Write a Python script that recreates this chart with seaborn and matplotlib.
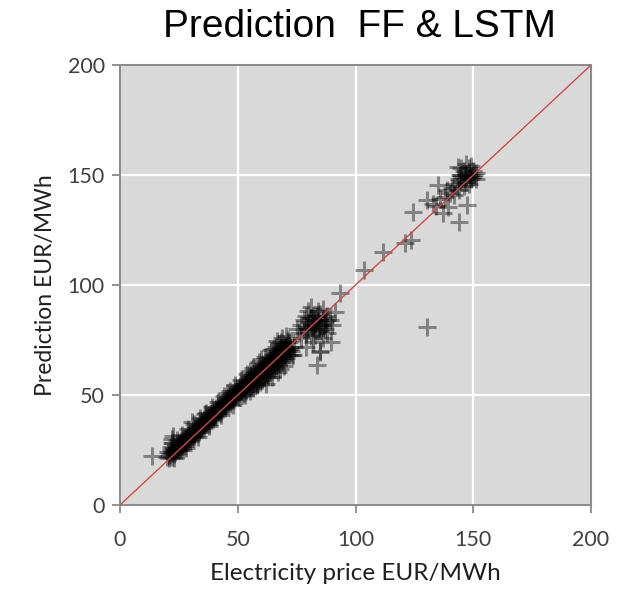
import matplotlib
matplotlib.use("Agg")
import matplotlib.pyplot as plt
import seaborn as sns
import pandas as pd

# ---- data ----
band_actual = [
    20, 20.5, 20.8,
    21.2, 21.6, 21.9,
    22.1, 22.5, 22.8, 22.3,
    23.1, 23.5, 23.8,
    24.2, 24.5, 24.9,
    25.1, 25.4, 25.8, 25.6,
    26.2, 26.5, 26.9,
    27.1, 27.4, 27.8, 27.6,
    28.2, 28.5, 28.9,
    29.1, 29.4, 29.8, 29.6,
    30.2, 30.5, 30.9,
    31.1, 31.4, 31.8, 31.6,
    32.2, 32.5, 32.9,
    33.1, 33.4, 33.8, 33.6,
    34.2, 34.5, 34.9,
    35.1, 35.4, 35.8, 35.6,
    36.2, 36.5, 36.9,
    37.1, 37.4, 37.8, 37.6,
    38.2, 38.5, 38.9,
    39.1, 39.4, 39.8, 39.6,
    40.2, 40.5, 40.9, 40.4,
    41.1, 41.4, 41.8,
    42.2, 42.5, 42.9, 42.6,
    43.1, 43.4, 43.8,
    44.2, 44.5, 44.9, 44.6,
    45.1, 45.4, 45.8,
    46.2, 46.5, 46.9, 46.6,
    47.1, 47.4, 47.8,
    48.2, 48.5, 48.9, 48.6,
    49.1, 49.4, 49.8,
    50.2, 50.5, 50.9, 50.6,
    51.1, 51.4, 51.8, 51.6,
    52.2, 52.5, 52.9, 52.6,
    53.1, 53.4, 53.8, 53.6,
    54.2, 54.5, 54.9, 54.6,
    55.1, 55.4, 55.8, 55.6, 55.3,
    56.2, 56.5, 56.9, 56.6, 56.3,
    57.1, 57.4, 57.8, 57.6, 57.3,
    58.2, 58.5, 58.9, 58.6, 58.3,
    59.1, 59.4, 59.8, 59.6, 59.3,
    60.2, 60.5, 60.9, 60.6, 60.3,
    61.1, 61.4, 61.8, 61.6, 61.3,
    62.2, 62.5, 62.9, 62.6, 62.3,
    63.1, 63.4, 63.8, 63.6, 63.3,
    64.2, 64.5, 64.9, 64.6, 64.3,
    65.1, 65.4, 65.8, 65.6, 65.3, 65.5,
    66.2, 66.5, 66.9, 66.6, 66.3, 66.4,
    67.1, 67.4, 67.8, 67.6, 67.3, 67.5,
    68.2, 68.5, 68.9, 68.6, 68.3, 68.4,
    69.1, 69.4, 69.8, 69.6, 69.3,
    70.2, 70.5, 70.9, 70.6, 70.3,
    71.1, 71.4, 71.8, 71.6,
    72.2, 72.5, 72.9,
]
band_pred = [
    22, 24, 21.5,
    23, 25, 22,
    24, 26, 23, 28,
    25, 24, 27,
    26, 25, 28,
    27, 26, 29, 25,
    28, 27, 30,
    29, 28, 31, 27,
    30, 29, 32,
    31, 30, 33, 29,
    32, 31, 34,
    33, 32, 35, 31,
    34, 33, 36,
    35, 34, 37, 33,
    36, 35, 38,
    37, 36, 39, 35,
    38, 37, 40,
    39, 38, 41, 37,
    40, 39, 42,
    41, 40, 43, 39,
    42, 41, 44, 40,
    43, 42, 45,
    44, 43, 46, 42,
    45, 44, 47,
    46, 45, 48, 44,
    47, 46, 49,
    48, 47, 50, 46,
    49, 48, 51,
    50, 49, 52, 48,
    51, 50, 53,
    52, 51, 54, 49,
    53, 52, 55, 50,
    54, 53, 56, 51,
    55, 54, 57, 52,
    56, 55, 58, 53,
    57, 56, 59, 54, 52,
    58, 57, 60, 55, 53,
    59, 58, 61, 56, 54,
    60, 59, 62, 57, 55,
    61, 60, 63, 58, 56,
    62, 61, 64, 59, 57,
    63, 62, 65, 60, 58,
    64, 63, 66, 61, 59,
    65, 64, 67, 62, 60,
    66, 65, 68, 63, 61,
    67, 66, 69, 64, 62, 71,
    68, 67, 70, 65, 63, 72,
    69, 68, 71, 66, 64, 73,
    70, 69, 72, 67, 65, 74,
    71, 70, 73, 68, 66,
    72, 71, 74, 69, 67,
    72, 70, 68, 74,
    72, 70, 68,
]

# dense core of the band
core_actual = [21.0, 22.0, 23.0, 24.0, 25.0, 26.0, 27.0, 28.0, 29.0, 30.0, 31.0,
               32.0, 33.0, 34.0, 35.0, 36.0, 37.0, 38.0, 39.0, 40.0, 41.0, 42.0,
               43.0, 44.0, 45.0, 46.0, 47.0, 48.0, 49.0, 50.0, 51.0, 52.0, 53.0,
               54.0, 55.0, 56.0, 57.0, 58.0, 59.0, 60.0, 61.0, 62.0, 63.0, 64.0,
               65.0, 66.0, 67.0, 68.0, 69.0, 70.0, 71.0, 72.0]
core_pred = [22.5, 23.5, 24.6, 25.4, 26.6, 27.4, 28.5, 29.5, 30.6, 31.4, 32.5,
             33.5, 34.6, 35.4, 36.5, 37.5, 38.6, 39.4, 40.5, 41.5, 42.4, 43.5,
             44.5, 45.4, 46.5, 47.5, 48.4, 49.5, 50.5, 51.4, 52.3, 53.2, 54.0,
             55.0, 56.0, 57.0, 58.0, 59.0, 60.0, 61.0, 62.0, 63.0, 64.0, 65.0,
             66.0, 67.0, 68.0, 69.0, 70.0, 70.5, 71.0, 71.0]

# extra scatter around the band edges
edge_actual = [21.5, 24.0, 26.5, 29.0, 31.5, 34.0, 36.5, 39.0, 41.5, 44.0, 46.5,
               49.0, 51.5, 54.0, 56.5, 59.0, 61.5, 64.0, 66.5, 69.0, 71.5,
               23.0, 28.0, 33.0, 38.0, 43.0, 48.0, 53.0, 58.0, 63.0, 68.0, 73.5,
               36.0, 45.5, 55.0, 60.0, 62.0, 64.5, 67.0, 69.5, 70.5, 74.0]
edge_pred = [26.5, 29.5, 32.0, 34.5, 37.0, 39.5, 42.0, 44.5, 47.0, 49.5, 52.0,
             54.5, 57.0, 59.5, 62.5, 65.0, 67.5, 70.5, 74.5, 76.0, 75.0,
             21.5, 26.0, 31.0, 36.0, 41.0, 45.5, 50.0, 54.5, 58.0, 62.0, 68.0,
             41.5, 51.0, 61.0, 66.5, 55.0, 58.0, 60.5, 63.0, 77.0, 72.0]

mid_actual = [75, 76, 77, 78, 78, 79, 79, 80, 80, 81, 81, 81, 82, 82, 83, 83, 83.5,
              84, 84, 84, 85, 85, 86, 86, 87, 87, 88, 88, 89.8, 89, 90, 91.3, 93.4,
              80, 85, 77, 82, 86, 79, 84.9, 81.5, 83, 84.5, 86.5, 82.5, 85.5, 80.5,
              87.5, 83.5, 79.5]
mid_pred = [80, 78, 82, 84, 80, 86, 78, 83, 80, 85, 90, 77, 82, 86, 80, 77.3, 63.6,
            84, 88, 79, 70, 82, 85, 76, 83, 80, 86, 78, 74.2, 84, 82, 87.9, 96.2,
            88, 87, 76, 74, 89, 72, 69.7, 81, 83, 81, 82, 84, 79, 85, 84, 86, 81]

high_actual = [130.2, 103.6, 111.8, 121, 123.6, 124.5, 130.2, 133, 135.2, 137.3, 139.4,
               144.1, 147.5, 143.7, 140, 141, 142, 143, 144, 145, 145, 146, 146, 147,
               147, 148, 148, 149, 149, 150, 150, 151, 142, 144, 146, 148, 138, 139,
               136, 134, 149, 151, 147, 145, 148.5, 150.5, 146.5, 144.5]
high_pred = [81, 106.8, 115.1, 119, 120.5, 133.3, 138.6, 137, 145.5, 132.6, 135.6,
             128.8, 136.4, 153.8, 142, 144, 146, 145, 148, 147, 150, 149, 152, 150,
             147, 151, 153, 150, 148, 152, 149, 151, 141, 143, 145, 146, 140, 143,
             139, 136, 154, 148, 155, 153, 149, 150, 148, 150]

low_actual = [13.4, 22, 22, 22.3, 26.8, 30.4]
low_pred = [22.5, 28, 30, 31.5, 25, 37.9]

diag = [0, 200]
ticks = [0, 50, 100, 150, 200]

df = pd.DataFrame({
    "actual": band_actual + core_actual + edge_actual + mid_actual + high_actual + low_actual,
    "pred": band_pred + core_pred + edge_pred + mid_pred + high_pred + low_pred,
})

# ---- figure ----
fig = plt.figure(figsize=(6.28, 5.90), dpi=100)
ax = fig.add_axes([120 / 628, 85 / 590, 471 / 628, 440 / 590])
ax.set_facecolor("#d9d9d9")

sns.scatterplot(data=df, x="actual", y="pred", marker="+", s=165, color="black",
                alpha=0.4, linewidth=2.2, ax=ax, zorder=3, legend=False)
sns.lineplot(x=diag, y=diag, color="#d0494a", linewidth=1.0, ax=ax, zorder=4)

ax.set_xlim(0, 200)
ax.set_ylim(0, 200)
ax.set_xticks(ticks)
ax.set_yticks(ticks)
ax.grid(True, color="white", linewidth=1.6, zorder=1)
ax.set_axisbelow(True)

for sp in ax.spines.values():
    sp.set_color("#8c8c8c")
    sp.set_linewidth(1.5)
ax.tick_params(direction="out", length=6, width=1.3, color="#8c8c8c",
               labelsize=15.5, labelcolor="#404040")
ax.tick_params(axis="x", pad=12)
ax.tick_params(axis="y", pad=5)
for lab in ax.get_xticklabels() + ax.get_yticklabels():
    lab.set_fontfamily("Lato")

ax.set_xlabel("Electricity price EUR/MWh", fontsize=17.5, family="Lato",
              color="#202020", labelpad=9)
ax.set_ylabel("Prediction EUR/MWh", fontsize=16.5, family="Lato",
              color="#202020", labelpad=8)
fig.text(0.573, 0.955, "Prediction  FF & LSTM", ha="center", va="center",
         fontsize=28, family="Liberation Sans", color="black")

fig.savefig("out.png", dpi=100)
